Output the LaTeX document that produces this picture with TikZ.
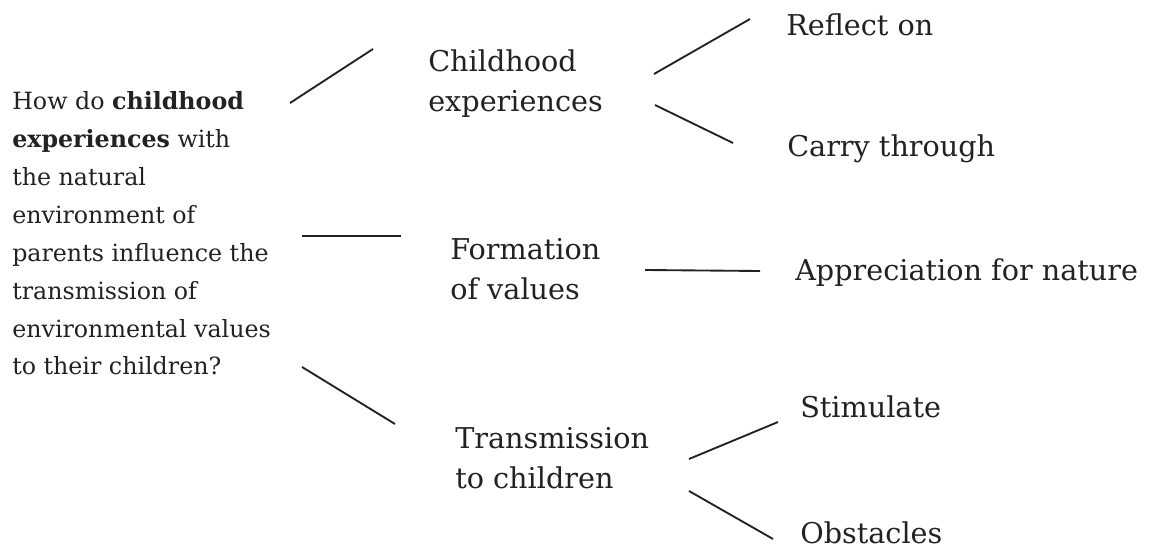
\documentclass[tikz,border=0pt]{standalone}
\usepackage{fontspec}
\setmainfont{DejaVu Serif}
\usetikzlibrary{positioning}
\definecolor{inkgray}{HTML}{222222}
\tikzset{
        treenode/.style={align=left,inner sep=0pt,anchor=base west,text=inkgray},
        % Research question (anchored at its last line)
        node_question/.style={treenode, font=\fontsize{17.8}{28.4}\selectfont},
        % First level topics (anchored at their last line)
        node_topic/.style={treenode, font=\fontsize{21.5}{30}\selectfont},
        % Second level topics
        node_sub/.style={treenode, font=\fontsize{21.5}{30}\selectfont},
        % Branch lines
        branch/.style={draw=inkgray, line width=1.4pt}
}
\begin{document}
\begin{tikzpicture}[x=0.75pt, y=-0.75pt]
            \useasboundingbox (0,0) rectangle (1152,548);
            \node[node_question] (question) at (12,375)
                {How do \textbf{childhood}\\ \textbf{experiences} with\\ the natural\\ environment of\\ parents influence the\\ transmission of\\ environmental values\\ to their children?};

            \node[node_topic] (childhood) at (428,112) {Childhood\\ experiences};
            \node[node_topic] (formation) at (450,300) {Formation\\ of values};
            \node[node_topic] (transmission) at (455,488) {Transmission\\ to children};

            \node[node_sub] (reflect) at (786,36) {Reflect on};
            \node[node_sub] (carry) at (787,157) {Carry through};
            \node[node_sub] (appreciation) at (795,281) {Appreciation for nature};
            \node[node_sub] (stimulate) at (800,418) {Stimulate};
            \node[node_sub] (obstacles) at (800,543) {Obstacles};

            % line ends
            \coordinate (q1) at (290,103);  \coordinate (c0) at (373,49);
            \coordinate (q2) at (302,236);  \coordinate (f0) at (401,236);
            \coordinate (q3) at (302,367);  \coordinate (t0) at (395,424);
            \coordinate (c1) at (654,74);   \coordinate (r0) at (750,19);
            \coordinate (c2) at (655,105);  \coordinate (y0) at (733,143);
            \coordinate (f1) at (645,270);  \coordinate (a0) at (760,271);
            \coordinate (t1) at (689,459);  \coordinate (s0) at (778,422);
            \coordinate (t2) at (689,491);  \coordinate (o0) at (773,539);

            \draw[branch] (q1) -- (c0);
            \draw[branch] (q2) -- (f0);
            \draw[branch] (q3) -- (t0);
            \draw[branch] (c1) -- (r0);
            \draw[branch] (c2) -- (y0);
            \draw[branch] (f1) -- (a0);
            \draw[branch] (t1) -- (s0);
            \draw[branch] (t2) -- (o0);
\end{tikzpicture}
\end{document}
